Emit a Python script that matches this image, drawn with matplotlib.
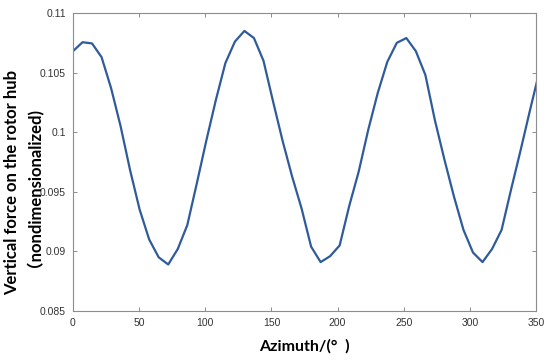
import matplotlib
matplotlib.use("Agg")
import matplotlib.pyplot as plt
import numpy as np

# azimuth sampled every 7.2 deg (last sample falls past the 350 limit)
azimuth = [i * 7.2 for i in range(50)]
force = [
    0.1068, 0.10755, 0.10745, 0.1063, 0.1037, 0.1005, 0.0968, 0.0935, 0.0910, 0.0895,
    0.0889, 0.0902, 0.0922, 0.0957, 0.0993, 0.1027, 0.1058, 0.1076, 0.1085, 0.1079,
    0.1060, 0.1026, 0.0993, 0.0963, 0.0936, 0.0904, 0.0891, 0.0896, 0.0905, 0.0938,
    0.0967, 0.1002, 0.1033, 0.1059, 0.1075, 0.1079, 0.1068, 0.1048, 0.1010, 0.0977,
    0.0946, 0.0918, 0.0899, 0.0891, 0.0902, 0.0918, 0.0952, 0.0985, 0.1019, 0.1052,
]
xticks = [0, 50, 100, 150, 200, 250, 300, 350]
yticks = [0.085, 0.09, 0.095, 0.1, 0.105, 0.11]
yticklabels = ["0.085", "0.09", "0.095", "0.1", "0.105", "0.11"]

label_font = ["Lato", "Noto Sans CJK SC", "DejaVu Sans"]

fig = plt.figure(figsize=(5.5, 3.62), dpi=100)
ax = fig.add_axes([0.1327, 0.141, 0.8418, 0.823])
ax.plot(azimuth, force, color="#2f5b9a", lw=1.6)

ax.set_xlim(0, 350)
ax.set_ylim(0.085, 0.11)
ax.set_xticks(xticks)
ax.set_yticks(yticks)
ax.set_yticklabels(yticklabels)

for s in ax.spines.values():
    s.set_color("#8c8c8c")
    s.set_linewidth(0.8)
ax.tick_params(direction="in", length=3, width=0.7, color="#8c8c8c",
               top=True, right=True, labelsize=7.5, labelcolor="#333333", pad=5)
for lab in ax.get_xticklabels() + ax.get_yticklabels():
    lab.set_family("Liberation Sans")

ax.set_xlabel("Azimuth/(°  )", family=label_font, fontweight="bold", fontsize=11.5, labelpad=8)
ax.set_ylabel("Vertical force on the rotor hub\n（nondimensionalized)", family=label_font,
              fontweight="bold", fontsize=12, linespacing=0.8)
ax.yaxis.set_label_coords(-0.084, 0.43)

fig.savefig("out.png", dpi=100)
